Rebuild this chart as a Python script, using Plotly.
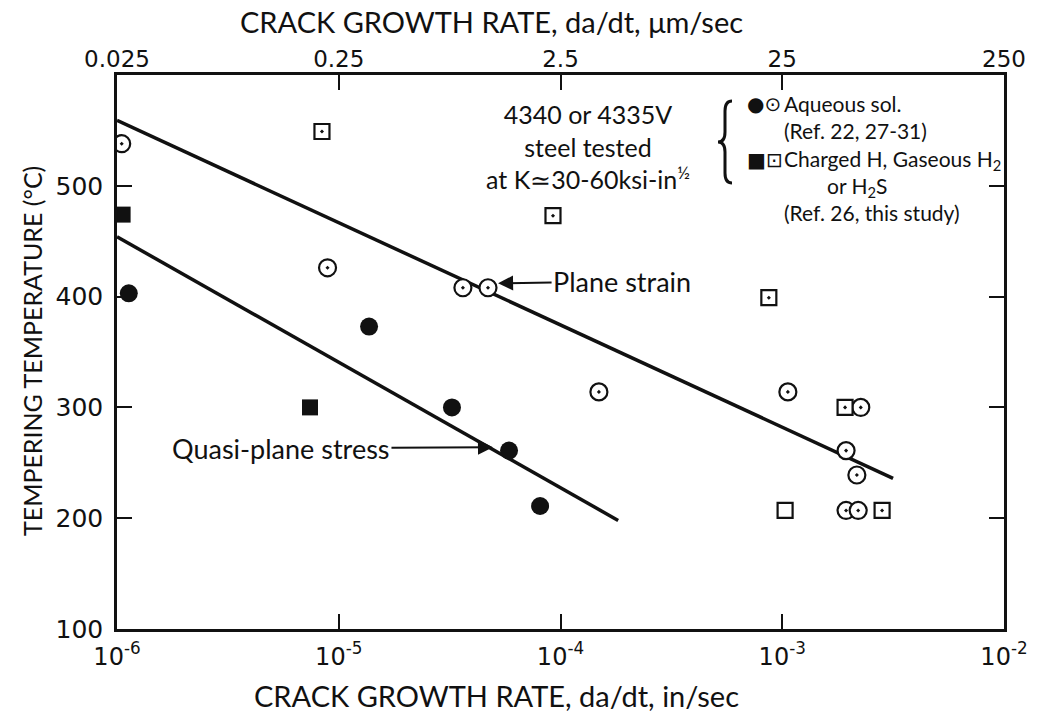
import math
import plotly.graph_objects as go

# Crack growth rate (in/sec) versus tempering temperature (deg C)
aq_open_rate = [1.05e-6, 8.9e-6, 3.63e-5, 4.71e-5, 1.49e-4, 1.06e-3, 2.26e-3, 1.94e-3, 2.17e-3, 1.94e-3, 2.2e-3]
aq_open_temp = [538, 426, 408, 408, 314, 314, 300, 261, 239, 207, 207]

aq_solid_rate = [1.13e-6, 1.37e-5, 3.24e-5, 5.86e-5, 8.09e-5]
aq_solid_temp = [403, 373, 300, 261, 211]

h_open_rate = [8.4e-6, 9.25e-5, 8.7e-4, 1.92e-3, 2.82e-3]
h_open_temp = [549, 473, 399, 300, 207]

h_plain_rate = [1.03e-3]
h_plain_temp = [207]

h_solid_rate = [1.06e-6, 7.42e-6]
h_solid_temp = [474, 300]

# Trend lines
plane_strain_rate = [1e-6, 3.16e-3]
plane_strain_temp = [559, 236]
quasi_stress_rate = [1e-6, 1.82e-4]
quasi_stress_temp = [454, 198]

# Points the line labels point at
plane_strain_tip = (5.23e-5, 412)
quasi_stress_tip = (4.96e-5, 264)

# Axis ticks
x_ticks = [1e-6, 1e-5, 1e-4, 1e-3, 1e-2]
x_ticktext = ["10<sup>-6</sup>", "10<sup>-5</sup>", "10<sup>-4</sup>", "10<sup>-3</sup>", "10<sup>-2</sup>"]
x2_ticktext = ["0.025", "0.25", "2.5", "25", "250"]
y_ticks = [100, 200, 300, 400, 500]

FONT = "Lato, 'Noto Sans', sans-serif"
NUM_FONT = "DejaVu Sans"
SYM_FONT = "DejaVu Sans"
BLACK = "#111111"
NB = "&nbsp;"

fig = go.Figure()

for rx, ty in [(plane_strain_rate, plane_strain_temp), (quasi_stress_rate, quasi_stress_temp)]:
    fig.add_trace(go.Scatter(x=rx, y=ty, mode="lines",
                             line=dict(color=BLACK, width=3.5), showlegend=False, hoverinfo="skip"))

fig.add_trace(go.Scatter(x=aq_open_rate, y=aq_open_temp, mode="markers", showlegend=False,
                         marker=dict(symbol="circle-dot", size=17, color="white",
                                     line=dict(color=BLACK, width=2.2))))
fig.add_trace(go.Scatter(x=h_open_rate, y=h_open_temp, mode="markers", showlegend=False,
                         marker=dict(symbol="square-dot", size=15, color="white",
                                     line=dict(color=BLACK, width=2.2))))
fig.add_trace(go.Scatter(x=h_plain_rate, y=h_plain_temp, mode="markers", showlegend=False,
                         marker=dict(symbol="square", size=15, color="white",
                                     line=dict(color=BLACK, width=2.2))))
fig.add_trace(go.Scatter(x=aq_solid_rate, y=aq_solid_temp, mode="markers", showlegend=False,
                         marker=dict(symbol="circle", size=18, color=BLACK,
                                     line=dict(color=BLACK, width=0))))
fig.add_trace(go.Scatter(x=h_solid_rate, y=h_solid_temp, mode="markers", showlegend=False,
                         marker=dict(symbol="square", size=16, color=BLACK,
                                     line=dict(color=BLACK, width=0))))
# carrier for the top (um/sec) axis
fig.add_trace(go.Scatter(x=[x_ticks[0]], y=[y_ticks[0]], xaxis="x2", mode="markers",
                         marker=dict(opacity=0), showlegend=False, hoverinfo="skip"))

L, R, T, B = 117, 37, 75, 88
W, H = 1041, 717
PW, PH = W - L - R, H - T - B


def px(x):
    return (x - L) / PW


def py(y):
    return (H - B - y) / PH


def label(text, x, y, size, anchor="center", family=FONT, angle=0, align="center", yanchor="middle"):
    return dict(text=text, x=px(x), y=py(y), xref="paper", yref="paper", showarrow=False,
                textangle=angle, xanchor=anchor, yanchor=yanchor, align=align,
                font=dict(size=size, family=family, color=BLACK))


key_text = "<br>".join([
    "Aqueous sol.",
    "(Ref. 22, 27-31)",
    "Charged H, Gaseous H<sub>2</sub>",
    NB * 8 + "or H<sub>2</sub>S",
    "(Ref. 26, this study)",
])

annotations = [
    label("CRACK GROWTH RATE, da/dt, in/sec", 496, 695, 29),
    label("CRACK GROWTH RATE, da/dt, μm/sec", 491, 22, 29),
    label("TEMPERING TEMPERATURE (°C)", 32, 351, 25, angle=-90),
    # block label
    label("4340 or 4335V<br>steel tested<br>at K≃30-60ksi-in<sup>½</sup>", 588, 146, 25),
    # key
    label("●⊙", 745, 104, 20, anchor="left", family=SYM_FONT),
    label("■⊡", 745, 160, 20, anchor="left", family=SYM_FONT),
    label(key_text, 782, 158, 21, anchor="left", align="left"),
    # line labels with arrows
    dict(text="Plane strain", x=math.log10(plane_strain_tip[0]), y=plane_strain_tip[1], xref="x", yref="y",
         showarrow=True, ax=124, ay=-2, arrowhead=2, arrowsize=1.5, arrowwidth=2, arrowcolor=BLACK,
         font=dict(size=27, family=FONT, color=BLACK)),
    dict(text="Quasi-plane stress", x=math.log10(quasi_stress_tip[0]), y=quasi_stress_tip[1], xref="x", yref="y",
         showarrow=True, ax=-212, ay=1, arrowhead=2, arrowsize=1.5, arrowwidth=2, arrowcolor=BLACK,
         font=dict(size=27, family=FONT, color=BLACK)),
]

# curly brace grouping the key entries
brace = "M 14,-41 Q 7,-41 7,-31 L 7,-10 Q 7,0 0,0 Q 7,0 7,10 L 7,31 Q 7,41 14,41"
shapes = [dict(type="path", path=brace, xref="paper", yref="paper", xsizemode="pixel", ysizemode="pixel",
               xanchor=px(718), yanchor=py(142), line=dict(color=BLACK, width=3))]

fig.update_layout(
    width=W, height=H,
    margin=dict(l=L, r=R, t=T, b=B),
    paper_bgcolor="white", plot_bgcolor="white",
    showlegend=False,
    annotations=annotations,
    shapes=shapes,
    xaxis=dict(type="log", range=[-6, -2], tickvals=x_ticks, ticktext=x_ticktext,
               showgrid=False, zeroline=False, showline=True, linecolor=BLACK, linewidth=2.5,
               mirror="ticks", ticks="inside", ticklen=15, tickwidth=2, tickcolor=BLACK,
               tickfont=dict(size=24, family=NUM_FONT, color=BLACK), ticklabelstandoff=4),
    xaxis2=dict(type="log", range=[-6, -2], overlaying="x", side="top", tickvals=x_ticks,
                ticktext=x2_ticktext, showgrid=False, zeroline=False, showline=False, ticks="",
                tickfont=dict(size=23, family=NUM_FONT, color=BLACK), ticklabelstandoff=2),
    yaxis=dict(range=[100, 600], tickvals=y_ticks, showgrid=False, zeroline=False,
               showline=True, linecolor=BLACK, linewidth=2.5, mirror="ticks",
               ticks="inside", ticklen=15, tickwidth=2, tickcolor=BLACK,
               tickfont=dict(size=25, family=NUM_FONT, color=BLACK), ticklabelstandoff=6),
)

fig.write_html("out.html")
